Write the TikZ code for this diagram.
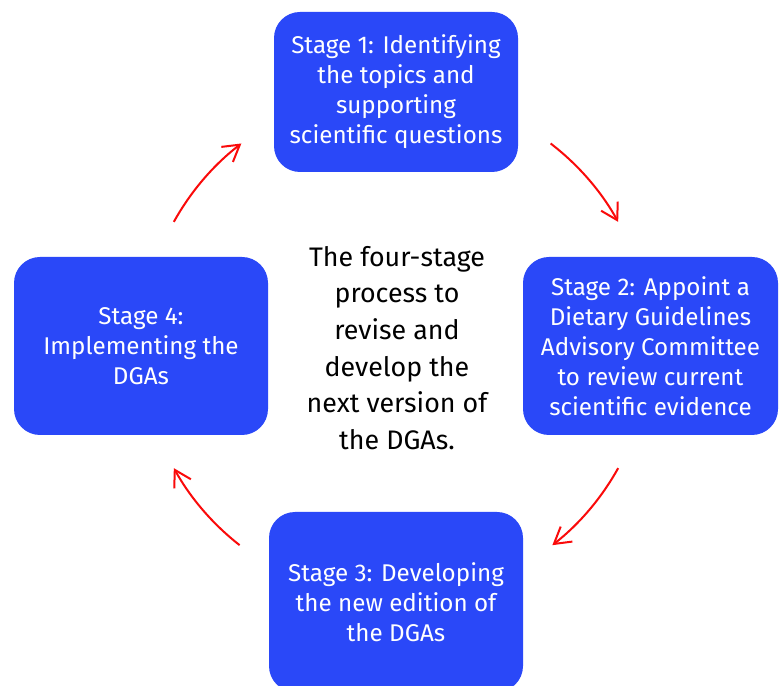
\documentclass[tikz,border=0pt]{standalone}
\usepackage{fontspec}
\setmainfont{Fira Sans}
\usetikzlibrary{arrows.meta,calc}
\definecolor{boxblue}{RGB}{42,72,248}
\definecolor{arrred}{RGB}{250,10,10}
\tikzset{
  stagebox/.style={draw=none, fill=boxblue, rounded corners=26pt, text=white,
    align=center, inner sep=0pt,
    font=\fontsize{24.2}{30}\selectfont},
  cycarrow/.style={draw=arrred, line width=2pt,
    -{Straight Barb[length=16pt,width=19pt,line width=2pt]}},
}
\begin{document}
\begin{tikzpicture}[x=1pt,y=1pt]
\useasboundingbox (0,0) rectangle (780,686);
\clip (0,0) rectangle (780,686);
\fill[white] (0,0) rectangle (780,686);
\node[stagebox, minimum width=244pt, minimum height=160pt] (s1) at (396,594)
  {Stage 1: Identifying\\the topics and\\supporting\\scientific questions};
\node[stagebox, minimum width=255pt, minimum height=178pt] (s2) at (650.5,340)
  {Stage 2: Appoint a\\Dietary Guidelines\\Advisory Committee\\to review current\\scientific evidence};
\node[stagebox, minimum width=254pt, minimum height=180pt] (s3) at (396,84)
  {Stage 3: Developing\\the new edition of\\the DGAs};
\node[stagebox, minimum width=254pt, minimum height=178pt] (s4) at (141,340)
  {Stage 4:\\Implementing the\\DGAs};
\node[align=center, inner sep=0pt, font=\fontsize{26.8}{36.6}\selectfont] (mid) at (397,338)
  {The four-stage\\process to\\revise and\\develop the\\next version of\\the DGAs.};
\coordinate (ctr) at (396,341);
\coordinate (a1) at ($(ctr)+(52.5:254pt)$);
\coordinate (a2) at ($(ctr)+(-29:254pt)$);
\coordinate (a3) at ($(ctr)+(-128:254pt)$);
\coordinate (a4) at ($(ctr)+(151:254pt)$);
\draw[cycarrow] (a1) arc[start angle=52.5, end angle=29, radius=254pt];
\draw[cycarrow] (a2) arc[start angle=-29, end angle=-52, radius=254pt];
\draw[cycarrow] (a3) arc[start angle=-128, end angle=-151, radius=254pt];
\draw[cycarrow] (a4) arc[start angle=151, end angle=127.5, radius=254pt];
\end{tikzpicture}
\end{document}
